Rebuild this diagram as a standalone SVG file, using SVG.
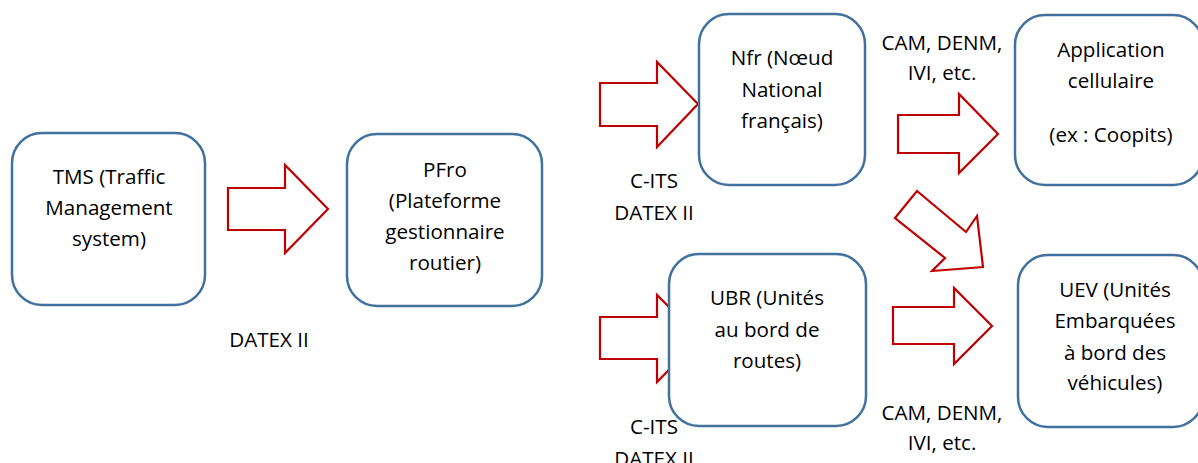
<svg xmlns="http://www.w3.org/2000/svg" width="1198" height="463" viewBox="0 0 1198 463">
<style>
.box{fill:#fff;stroke:#41719C;stroke-width:2.5}
.arr{fill:#fff;stroke:#C00000;stroke-width:2.2;stroke-linejoin:miter}
text{font-family:"Open Sans","Liberation Sans",sans-serif;font-size:20.6px;fill:#000;text-anchor:middle}
</style>
<rect width="1198" height="463" fill="#fff"/>
<g id="connectors">
<polygon class="arr" points="228,188 285,188 285,165 328,209 285,253 285,230 228,230"/>
<polygon class="arr" points="600,83 657,83 657,62 698,104 657,147 657,126 600,126"/>
<polygon class="arr" points="600,317 657,317 657,295 700,338 657,382 657,359 600,359"/>
<polygon class="arr" points="898,115 959,115 959,94 998,134 959,173 959,153 898,153"/>
<polygon class="arr" points="895,218 917,191 966,232 977,216 983,267 932,271 945,258"/>
<polygon class="arr" points="893,307 954,307 954,288 992,326 954,364 954,344 893,344"/>
<text x="269" y="347">DATEX II</text>
<text x="654" y="188">C-ITS</text>
<text x="654" y="220">DATEX II</text>
<text x="654" y="434">C-ITS</text>
<text x="654" y="466">DATEX II</text>
<text x="942" y="50">CAM, DENM,</text>
<text x="942" y="80">IVI, etc.</text>
<text x="942" y="420">CAM, DENM,</text>
<text x="942" y="450">IVI, etc.</text>
</g>
<g id="tms">
<rect class="box" x="12" y="133" width="193" height="172" rx="30"/>
<text x="109" y="184">TMS (Traffic</text>
<text x="109" y="215">Management</text>
<text x="109" y="246">system)</text>
</g>
<g id="pfro">
<rect class="box" x="347" y="134" width="195" height="172" rx="30"/>
<text x="445" y="177">PFro</text>
<text x="445" y="208">(Plateforme</text>
<text x="445" y="239">gestionnaire</text>
<text x="445" y="270">routier)</text>
</g>
<g id="nfr">
<rect class="box" x="699" y="14" width="166" height="171" rx="30"/>
<text x="782" y="65">Nfr (Nœud</text>
<text x="782" y="97">National</text>
<text x="782" y="128">français)</text>
</g>
<g id="ubr">
<rect class="box" x="669" y="254" width="197" height="172" rx="30"/>
<text x="767" y="305">UBR (Unités</text>
<text x="767" y="337">au bord de</text>
<text x="767" y="368">routes)</text>
</g>
<g id="app">
<rect class="box" x="1015" y="15" width="188" height="170" rx="30"/>
<text x="1111" y="57">Application</text>
<text x="1111" y="88">cellulaire</text>
<text x="1111" y="142">(ex : Coopits)</text>
</g>
<g id="uev">
<rect class="box" x="1018" y="255" width="185" height="172" rx="30"/>
<text x="1115" y="297">UEV (Unités</text>
<text x="1115" y="328">Embarquées</text>
<text x="1115" y="360">à bord des</text>
<text x="1115" y="390">véhicules)</text>
</g>
</svg>
